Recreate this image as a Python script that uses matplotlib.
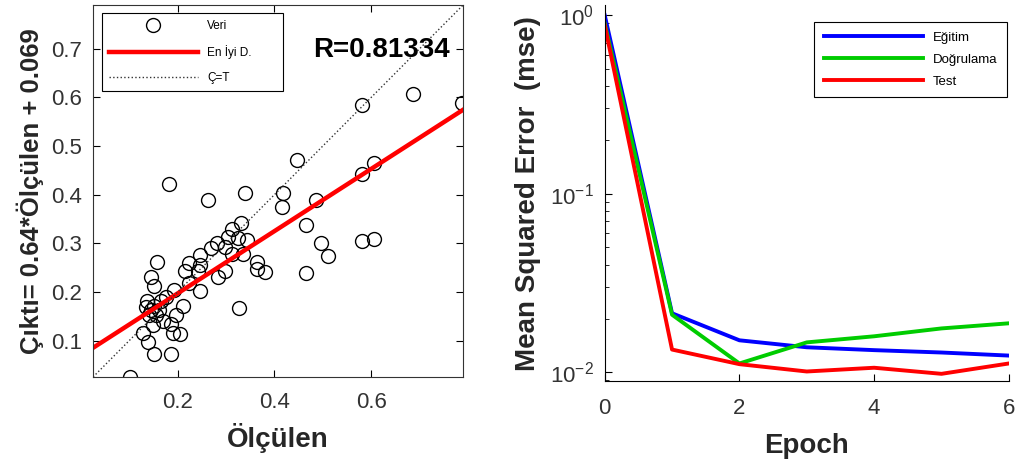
import numpy as np
import matplotlib.pyplot as plt

plt.rcParams['font.family'] = ['Liberation Sans', 'DejaVu Sans']
plt.rcParams['mathtext.fontset'] = 'custom'
plt.rcParams['mathtext.rm'] = 'Liberation Sans'

# scatter data (olculen, cikti)
olculen = [0.582, 0.686, 0.787, 0.446, 0.582, 0.606, 0.182, 0.262, 0.339, 0.417,
           0.487, 0.415, 0.465, 0.497, 0.510, 0.582, 0.606, 0.465, 0.327, 0.102,
           0.186, 0.151, 0.138, 0.128, 0.204, 0.190, 0.186, 0.196, 0.149, 0.134,
           0.145, 0.155, 0.141, 0.151, 0.161, 0.157, 0.145, 0.151, 0.175, 0.192,
           0.216, 0.223, 0.223, 0.247, 0.247, 0.243, 0.247, 0.268, 0.282, 0.298,
           0.284, 0.298, 0.305, 0.313, 0.331, 0.325, 0.344, 0.313, 0.335, 0.364,
           0.381, 0.364, 0.136, 0.165, 0.169, 0.212]
cikti = [0.585, 0.607, 0.589, 0.471, 0.442, 0.465, 0.422, 0.389, 0.403, 0.403,
         0.389, 0.374, 0.337, 0.300, 0.273, 0.304, 0.308, 0.238, 0.166, 0.024,
         0.073, 0.073, 0.096, 0.116, 0.114, 0.116, 0.135, 0.152, 0.131, 0.168,
         0.162, 0.152, 0.152, 0.172, 0.162, 0.261, 0.230, 0.213, 0.189, 0.203,
         0.244, 0.218, 0.259, 0.275, 0.255, 0.244, 0.201, 0.290, 0.300, 0.292,
         0.230, 0.244, 0.312, 0.329, 0.341, 0.310, 0.306, 0.279, 0.279, 0.248,
         0.240, 0.261, 0.182, 0.182, 0.141, 0.172]
egim = 0.64
kesim = 0.069
r_deger = 0.81334
lim = [0.025, 0.79]

# training curves
epoch = [0, 1, 2, 3, 4, 5, 6]
egitim = [1.0, 0.0214, 0.0151, 0.0138, 0.0133, 0.0129, 0.0124]
dogrulama = [0.90, 0.0210, 0.0112, 0.0147, 0.0159, 0.0176, 0.0188]
test = [0.88, 0.0134, 0.0111, 0.0101, 0.0106, 0.0098, 0.0112]

txt = '#262626'

fig = plt.figure(figsize=(10.18, 4.66), dpi=100)

# left: regression plot
ax1 = fig.add_axes([0.0914, 0.191, 0.3634, 0.798])
ax1.plot(olculen, cikti, 'o', mfc='none', mec='black', ms=10, mew=1.0, label='Veri')
xx = np.array(lim)
ax1.plot(xx, egim * xx + kesim, color='red', lw=3.2, label='En İyi D.')
ax1.plot(xx, xx, ':', color='#333333', lw=1, label='Ç=T')
ax1.set_xlim(lim)
ax1.set_ylim(lim)
ax1.set_xticks([0.2, 0.4, 0.6])
ax1.set_yticks([0.1, 0.2, 0.3, 0.4, 0.5, 0.6, 0.7])
ax1.tick_params(direction='in', top=True, right=True, labelsize=16, labelcolor='#333333', length=5)
ax1.tick_params(axis='x', pad=11)
ax1.tick_params(axis='y', pad=8)
ax1.set_xlabel('Ölçülen', fontsize=20, fontweight='bold', color=txt, labelpad=7)
ax1.set_ylabel('Çıktı= 0.64*Ölçülen + 0.069', fontsize=18.5, fontweight='bold', color=txt, labelpad=5)
ax1.text(0.762, 0.698, 'R=%.5f' % r_deger, fontsize=20, fontweight='bold',
         ha='right', va='center', color='black')
leg1 = ax1.legend(loc='upper left', fontsize=8.5, handlelength=7.5, fancybox=False,
                  edgecolor='black', framealpha=1, borderpad=0.6, labelspacing=1.1,
                  borderaxespad=0, bbox_to_anchor=(0.024, 0.763, 0.49, 0.215), mode='expand')
leg1.get_frame().set_linewidth(0.8)
for s in ax1.spines.values():
    s.set_color('#333333')

# right: performance plot
ax2 = fig.add_axes([0.594, 0.182, 0.397, 0.807])
ax2.plot(epoch, egitim, color='#0000ff', lw=2.8, label='Eğitim')
ax2.plot(epoch, dogrulama, color='#00cc00', lw=2.8, label='Doğrulama')
ax2.plot(epoch, test, color='#ff0000', lw=2.8, label='Test')
ax2.set_yscale('log')
ax2.set_xlim(0, 6)
ax2.set_ylim(10 ** -2.05, 10 ** 0.056)
ax2.set_xticks([0, 2, 4, 6])
ax2.set_yticks([1e-2, 1e-1, 1])
ax2.set_yticklabels(['$10^{-2}$', '$10^{-1}$', '$10^{0}$'])
ax2.tick_params(direction='in', labelsize=16, labelcolor='#333333', length=5)
ax2.tick_params(axis='x', pad=12)
ax2.tick_params(axis='y', pad=8)
ax2.tick_params(which='minor', direction='in', length=3)
ax2.spines['top'].set_visible(False)
ax2.spines['right'].set_visible(False)
ax2.set_xlabel('Epoch', fontsize=20, fontweight='bold', color=txt, labelpad=10)
ax2.set_ylabel('Mean Squared Error  (mse)', fontsize=20, fontweight='bold', color=txt, labelpad=6)
leg2 = ax2.legend(loc='upper right', fontsize=9.5, handlelength=7.5, fancybox=False,
                  edgecolor='black', framealpha=1, borderpad=0.7, labelspacing=0.75,
                  borderaxespad=0, bbox_to_anchor=(0.995, 0.955))
leg2.get_frame().set_linewidth(0.8)

fig.savefig('out.png', dpi=100)
